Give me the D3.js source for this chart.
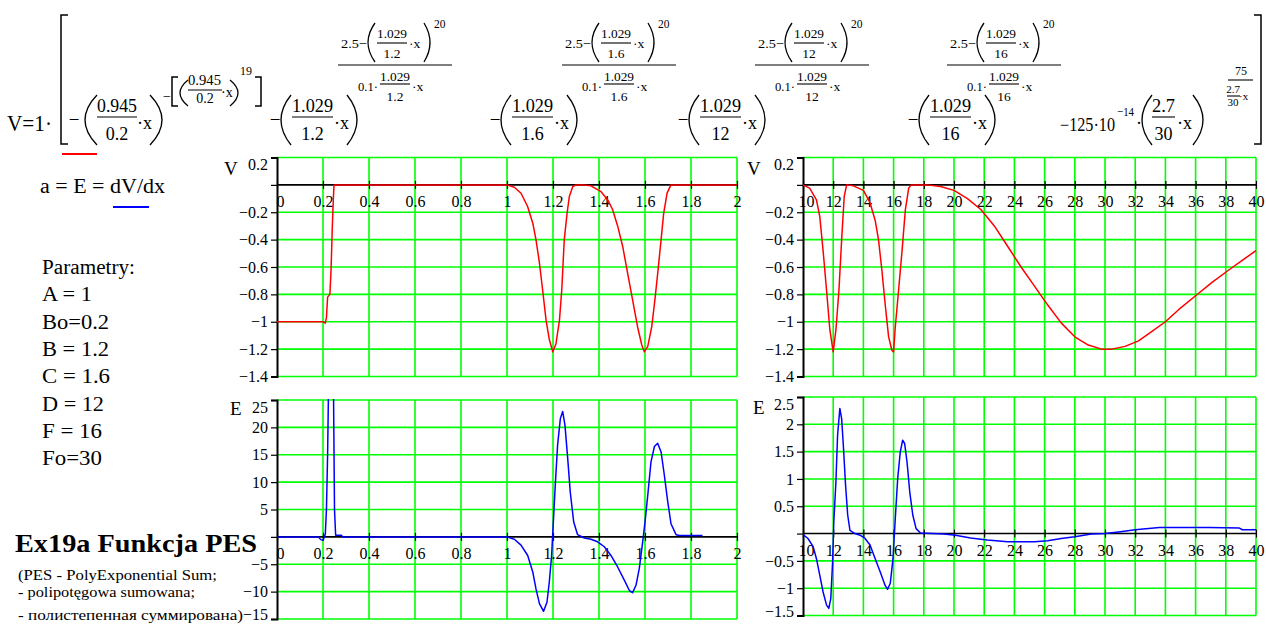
<!DOCTYPE html>
<html>
<head>
<meta charset="utf-8">
<script src="https://cdn.jsdelivr.net/npm/d3@7"></script>
<style>
  body { margin: 0; background: #fff; }
  svg { display: block; }
  text { font-family: "Liberation Serif", "Times New Roman", serif; fill: #000; }
</style>
</head>
<body>
<script>
// tick values of the four plots
const vTicks = [0.2, 0, -0.2, -0.4, -0.6, -0.8, -1, -1.2, -1.4];
const eLeftTicks = [25, 20, 15, 10, 5, 0, -5, -10, -15];
const eRightTicks = [2.5, 2, 1.5, 1, 0.5, 0, -0.5, -1, -1.5];
const xLeftTicks = [0, 0.2, 0.4, 0.6, 0.8, 1, 1.2, 1.4, 1.6, 1.8, 2];
const xRightTicks = [10, 12, 14, 16, 18, 20, 22, 24, 26, 28, 30, 32, 34, 36, 38, 40];

// V(x) for x in 0..2
const vLeft = [[0,-1],[0.2,-1],[0.21,-1.01],[0.215,-0.97],[0.22,-0.82],[0.23,-0.8],[0.235,-0.62],
  [0.238,-0.45],[0.24,-0.33],[0.245,-0.1],[0.248,0],[1,0],[1.032,-0.017],[1.061,-0.061],[1.09,-0.16],
  [1.112,-0.28],[1.126,-0.4],[1.141,-0.57],[1.155,-0.77],[1.17,-0.99],[1.184,-1.13],[1.199,-1.22],
  [1.213,-1.16],[1.228,-0.99],[1.238,-0.77],[1.249,-0.4],[1.261,-0.21],[1.271,-0.085],[1.286,-0.012],
  [1.3,0],[1.33,0],[1.365,-0.007],[1.409,-0.05],[1.438,-0.11],[1.459,-0.18],[1.481,-0.3],[1.503,-0.45],
  [1.525,-0.65],[1.546,-0.84],[1.568,-1.04],[1.586,-1.17],[1.597,-1.22],[1.612,-1.18],[1.629,-1.04],
  [1.643,-0.84],[1.655,-0.65],[1.67,-0.4],[1.681,-0.21],[1.696,-0.06],[1.713,0],[2,0]];

// V(x) for x in 10..40
const vRight = [[10,0],[10.44,-0.024],[10.89,-0.11],[11.11,-0.23],[11.33,-0.48],[11.56,-0.77],
  [11.78,-1.06],[12,-1.22],[12.18,-1.06],[12.38,-0.77],[12.56,-0.4],[12.73,-0.085],[12.89,0],
  [13.33,-0.007],[14,-0.04],[14.44,-0.13],[14.78,-0.26],[15,-0.4],[15.22,-0.62],[15.44,-0.87],
  [15.67,-1.11],[15.89,-1.21],[16,-1.22],[16.11,-1.04],[16.33,-0.77],[16.56,-0.48],[16.78,-0.18],
  [17,-0.024],[17.16,0],[18.22,0],[19.11,-0.012],[20,-0.04],[20.89,-0.1],[21.78,-0.18],[22.67,-0.3],
  [23.56,-0.45],[24.44,-0.6],[25.33,-0.74],[26.22,-0.88],[27.11,-1.01],[28,-1.11],[28.89,-1.17],
  [29.78,-1.2],[30.44,-1.2],[31.33,-1.18],[32.22,-1.14],[33.11,-1.07],[34,-1],[34.89,-0.91],
  [36,-0.81],[37.11,-0.71],[38.22,-0.62],[39.11,-0.55],[40,-0.48]];

// E = dV/dx for x in 0..2
const eLeft = [[0,0],[0.18,0],[0.19,-0.5],[0.2,-0.6],[0.21,0.5],[0.215,5],[0.22,15],[0.225,30],
  [0.245,30],[0.25,5],[0.255,0.3],[0.28,0.3],[0.285,0],[1,0],[1.032,-0.43],[1.061,-1.5],[1.09,-3.4],
  [1.112,-6.4],[1.126,-9.5],[1.141,-12.2],[1.159,-13.6],[1.174,-11.9],[1.184,-8.2],[1.194,-3.4],
  [1.2,1.5],[1.209,8.8],[1.22,16.8],[1.232,21.6],[1.242,22.9],[1.252,20.4],[1.264,14.3],[1.275,8.2],
  [1.29,2.7],[1.307,0.4],[1.336,-0.2],[1.365,-0.43],[1.394,-0.9],[1.423,-1.8],[1.452,-3.4],
  [1.481,-5.5],[1.51,-7.9],[1.532,-9.8],[1.546,-10.2],[1.561,-8.8],[1.575,-5.8],[1.59,-0.9],
  [1.6,2.7],[1.612,7.6],[1.626,13.7],[1.641,16.5],[1.655,17.1],[1.67,15.5],[1.684,11.3],
  [1.699,6.4],[1.713,2.4],[1.735,0.4],[1.75,0.25],[1.85,0.25]];

// E = dV/dx for x in 10..40
const eRight = [[10,-0.02],[10.33,-0.09],[10.67,-0.24],[10.89,-0.46],[11.11,-0.76],[11.33,-1.07],
  [11.56,-1.31],[11.71,-1.37],[11.84,-1.19],[11.96,-0.52],[12.04,0.21],[12.18,0.95],[12.29,1.8],
  [12.44,2.29],[12.56,2.1],[12.67,1.62],[12.82,0.88],[12.96,0.34],[13.11,0.06],[13.44,0],
  [13.78,-0.03],[14.11,-0.09],[14.44,-0.21],[14.78,-0.46],[15.11,-0.7],[15.44,-0.95],[15.6,-1.02],
  [15.78,-0.91],[15.96,-0.46],[16.11,0.27],[16.27,1],[16.44,1.49],[16.6,1.71],[16.73,1.65],
  [16.89,1.31],[17.07,0.76],[17.27,0.34],[17.49,0.09],[17.78,0.01],[19.33,-0.01],[20.1,-0.03],
  [21.1,-0.08],[22.2,-0.12],[23.56,-0.15],[25.33,-0.15],[26.2,-0.13],[27.1,-0.09],[28,-0.06],
  [29.1,-0.01],[30,0],[30.9,0.03],[32,0.07],[33.6,0.11],[34.7,0.11],[36.9,0.11],[38.9,0.1],
  [39.1,0.07],[40,0.07]];

const params = ['Parametry:', 'A = 1', 'Bo=0.2', 'B = 1.2', 'C = 1.6', 'D = 12', 'F = 16', 'Fo=30'];
const paramWidths = [93, 50, 67, 67, 68, 62, 60, 60];

const green = '#00ff00';

const svg = d3.select('body').append('svg')
  .attr('width', 1266)
  .attr('height', 625)
  .attr('font-family', 'Liberation Serif, Times New Roman, serif');

svg.append('rect').attr('width', 1266).attr('height', 625).attr('fill', '#fff');
const defs = svg.append('defs');

// ---------- formula helpers ----------
const fg = svg.append('g');

function T(x, y, s, size, len, anchor) {
  const t = fg.append('text').attr('x', x).attr('y', y)
    .attr('font-size', size).attr('text-anchor', anchor || 'start').text(s);
  if (len) t.attr('textLength', len).attr('lengthAdjust', 'spacingAndGlyphs');
  return t;
}
function C(x, y, s, size) { return T(x, y, s, size, null, 'middle'); }
function B(x1, x2, y) {
  fg.append('line').attr('x1', x1).attr('x2', x2).attr('y1', y).attr('y2', y)
    .attr('stroke', '#000').attr('stroke-width', 1.1);
}
function P(x1, x2, y1, y2, side) {
  const m = (y1 + y2) / 2;
  const d = side === 'l'
    ? `M${x2},${y1} Q${x2 - 2 * (x2 - x1)},${m} ${x2},${y2}`
    : `M${x1},${y1} Q${x1 + 2 * (x2 - x1)},${m} ${x1},${y2}`;
  fg.append('path').attr('d', d).attr('fill', 'none').attr('stroke', '#000').attr('stroke-width', 1.3);
}
function K(x1, x2, y1, y2, side) {
  const d = side === 'l'
    ? `M${x2},${y1} H${x1} V${y2} H${x2}`
    : `M${x1},${y1} H${x2} V${y2} H${x1}`;
  fg.append('path').attr('d', d).attr('fill', 'none').attr('stroke', '#000').attr('stroke-width', 1.5);
}

// -(1.029/den * x)  on the main line
function mainTerm(xm, den) {
  C(xm + 5, 126, '\u2212', 19);
  P(xm + 11, xm + 21, 95, 145, 'l');
  T(xm + 22, 112, '1.029', 18, 41);
  B(xm + 22, xm + 63, 117);
  C(xm + 42.5, 140, den, 18);
  T(xm + 64, 129, '\u00b7x', 18);
  P(xm + 77, xm + 87, 95, 145, 'r');
}

// (2.5-(1.029/den*x)^20) / (0.1*1.029/den*x)  as exponent
function expo(bx, den) {
  B(bx, bx + 114, 65);
  T(bx + 3, 48, '2.5\u2212', 13.5, 26);
  P(bx + 30, bx + 37, 23, 62, 'l');
  T(bx + 39, 38, '1.029', 13.5, 30);
  B(bx + 39, bx + 69, 43);
  C(bx + 54, 58, den, 13.5);
  T(bx + 71, 48, '\u00b7x', 13.5);
  P(bx + 86, bx + 92, 23, 62, 'r');
  T(bx + 96, 28, '20', 11.5);
  T(bx + 20, 91, '0.1\u00b7', 13.5, 20);
  T(bx + 42, 81, '1.029', 13.5, 30);
  B(bx + 42, bx + 72, 84);
  C(bx + 57, 101, den, 13.5);
  T(bx + 74, 91, '\u00b7x', 13.5);
}

// ---------- formula ----------
T(7, 131, 'V=1\u00b7', 23, 45);
K(61, 68, 15, 144, 'l');
C(74, 126, '\u2212', 19);
P(85, 97, 95, 145, 'l');
T(97, 112, '0.945', 18, 40);
B(97, 137, 117);
C(117, 140, '0.2', 18);
T(137, 129, '\u00b7x', 18);
P(150, 162, 95, 145, 'r');
C(167, 101, '\u2212', 14);
K(172, 178, 77, 106, 'l');
P(180, 188, 80, 106, 'l');
T(188, 85, '0.945', 14, 33);
B(188, 222, 90);
C(205, 103, '0.2', 14);
T(221, 97, '\u00b7x', 14);
P(230, 238, 80, 106, 'r');
T(240, 75, '19', 12);
K(255, 261, 77, 106, 'r');

mainTerm(270, '1.2');
expo(338, '1.2');
mainTerm(490, '1.6');
expo(562, '1.6');
mainTerm(678, '12');
expo(755, '12');
mainTerm(908, '16');
expo(947, '16');

T(1060, 131, '\u2212125\u00b710', 18, 55);
T(1117, 116, '\u221214', 13, 17);
T(1136, 129, '\u00b7', 18);
P(1142, 1152, 95, 145, 'l');
T(1152, 112, '2.7', 18, 23);
B(1152, 1175, 117);
C(1163.5, 140, '30', 18);
T(1177, 129, '\u00b7x', 18);
P(1193, 1203, 95, 145, 'r');
C(1241, 75, '75', 12);
B(1228, 1253, 80);
C(1233, 93, '2.7', 11);
B(1227, 1240, 96);
C(1233, 106, '30', 11);
T(1239, 100, '\u00b7x', 11);
K(1254, 1261, 15, 144, 'r');

// ---------- left column ----------
svg.append('line').attr('x1', 62).attr('x2', 97).attr('y1', 154).attr('y2', 154)
  .attr('stroke', '#ff0000').attr('stroke-width', 2);
T(40, 193, 'a = E = dV/dx', 20, 125);
svg.append('line').attr('x1', 113).attr('x2', 149).attr('y1', 207).attr('y2', 207)
  .attr('stroke', '#0000ff').attr('stroke-width', 2);

params.forEach((p, i) => T(42, 274 + i * 27.3, p, 20, paramWidths[i]));

T(15, 552, 'Ex19a Funkcja PES', 25, 242).attr('font-weight', 'bold');
T(18, 580, '(PES - PolyExponential Sum;', 15, 199);
T(18, 597, '- polipot\u0119gowa sumowana;', 15, 177);
T(18, 620, '- \u043f\u043e\u043b\u0438\u0441\u0442\u0435\u043f\u0435\u043d\u043d\u0430\u044f \u0441\u0443\u043c\u043c\u0438\u0440\u043e\u0432\u0430\u043d\u0430)', 15, 225);

// ---------- plots ----------
const fmt = d => String(d).replace('-', '\u2212');

function panel(id, x, y, xt, yt, data, color, letter, lx, ly) {
  const [x0, x1] = x.range();
  const [y0, y1] = y.range();
  const g = svg.append('g');

  defs.append('clipPath').attr('id', id)
    .append('rect').attr('x', x0).attr('y', y0 - 1).attr('width', x1 - x0 + 1).attr('height', y1 - y0 + 2);

  // grid
  g.selectAll('.gx').data(xt.slice(1)).enter().append('line')
    .attr('x1', d => x(d)).attr('x2', d => x(d))
    .attr('y1', y0).attr('y2', y1)
    .attr('stroke', green).attr('stroke-width', 1.6);
  g.selectAll('.gy').data(yt.filter(d => d !== 0)).enter().append('line')
    .attr('x1', x0).attr('x2', x1)
    .attr('y1', d => y(d)).attr('y2', d => y(d))
    .attr('stroke', green).attr('stroke-width', 1.6);

  // zero line with crossing ticks and labels below it
  g.append('line').attr('x1', x0).attr('x2', x1).attr('y1', y(0)).attr('y2', y(0))
    .attr('stroke', '#000').attr('stroke-width', 1.6);
  const ax = g.append('g')
    .attr('transform', `translate(0,${y(0) - 4})`)
    .call(d3.axisBottom(x).tickValues(xt).tickSizeInner(8).tickSizeOuter(0).tickPadding(7).tickFormat(fmt));
  ax.select('.domain').remove();
  ax.attr('font-size', 16).attr('font-family', 'Liberation Serif, Times New Roman, serif');
  ax.selectAll('line').attr('stroke', '#000').attr('stroke-width', 1.2);
  ax.selectAll('.tick').filter((d, i) => i === 0).select('text').attr('dx', 3);

  // vertical axis
  const ay = g.append('g')
    .attr('transform', `translate(${x0},0)`)
    .call(d3.axisLeft(y).tickValues(yt).tickSize(6).tickPadding(3).tickFormat(d => d === 0 ? '' : fmt(d)));
  ay.attr('font-size', 16).attr('font-family', 'Liberation Serif, Times New Roman, serif');
  ay.select('.domain').attr('stroke', '#000').attr('stroke-width', 2);
  ay.selectAll('line').attr('stroke', '#000').attr('stroke-width', 1.2);
  ay.selectAll('.tick').filter((d, i) => i === 0).select('text').attr('dy', '0.75em');
  if (y1 > 600) ay.selectAll('.tick').filter((d, i) => i === yt.length - 1).select('text').attr('dy', '0.05em');

  // curve
  g.append('path').datum(data)
    .attr('clip-path', `url(#${id})`)
    .attr('fill', 'none')
    .attr('stroke', color)
    .attr('stroke-width', 1.5)
    .attr('stroke-linejoin', 'round')
    .attr('d', d3.line().x(d => x(d[0])).y(d => y(d[1])));

  g.append('text').attr('x', lx).attr('y', ly).attr('font-size', 19).text(letter);
}

const xL = d3.scaleLinear().domain([0, 2]).range([277, 737]);
const xR = d3.scaleLinear().domain([10, 40]).range([803, 1256]);
const yVL = d3.scaleLinear().domain([0.2, -1.4]).range([157.5, 376.5]);
const yVR = d3.scaleLinear().domain([0.2, -1.4]).range([157.5, 376.5]);
const yEL = d3.scaleLinear().domain([25, -15]).range([400, 619]);
const yER = d3.scaleLinear().domain([2.5, -1.5]).range([397, 615.5]);

panel('c1', xL, yVL, xLeftTicks, vTicks, vLeft, '#ff0000', 'V', 224, 175);
panel('c2', xR, yVR, xRightTicks, vTicks, vRight, '#ff0000', 'V', 747, 175);
panel('c3', xL, yEL, xLeftTicks, eLeftTicks, eLeft, '#0000ff', 'E', 230, 415);
panel('c4', xR, yER, xRightTicks, eRightTicks, eRight, '#0000ff', 'E', 753, 414);
</script>
</body>
</html>
